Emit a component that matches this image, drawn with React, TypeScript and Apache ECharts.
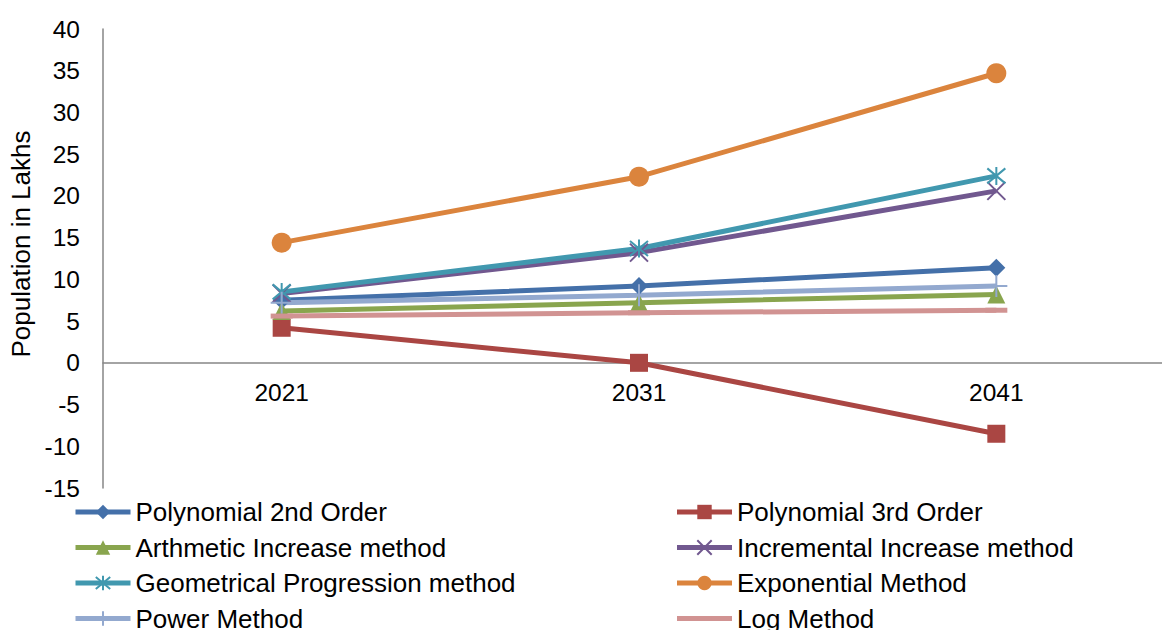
import React, { useEffect, useRef } from "react";
import * as echarts from "echarts";

// Census years on the category axis
const years = ["2021", "2031", "2041"];

// Projected population (lakhs) for each forecasting method
const polynomial2nd = [7.5, 9.2, 11.4];
const polynomial3rd = [4.2, 0, -8.5];
const arithmeticIncrease = [6.2, 7.2, 8.2];
const incrementalIncrease = [8.3, 13.2, 20.6];
const geometricalProgression = [8.5, 13.7, 22.4];
const exponentialMethod = [14.4, 22.3, 34.7];
const powerMethod = [7.2, 8.1, 9.2];
const logMethod = [5.6, 6.0, 6.3];

// Value axis range and step
const yMin = -15;
const yMax = 40;
const yStep = 5;

const FONT = "'Liberation Sans', Arial, sans-serif";

// Stroke-only marker shapes (zero-length corner segments keep the box square)
const crossX = "path://M0,0L10,10M10,0L0,10";
const asterisk = "path://M0,0L10,10M10,0L0,10M5,-1L5,11";
const plus = "path://M5,0L5,10M0,5L10,5";
const dash = "path://M0,0L0,0M0,5L10,5M10,10L10,10";

type SeriesDef = {
  name: string;
  data: number[];
  color: string;
  symbol: string;
  symbolSize: number;
  strokeWidth?: number;
};

const seriesDefs: SeriesDef[] = [
  { name: "Polynomial 2nd Order", data: polynomial2nd, color: "#4470A9", symbol: "diamond", symbolSize: 18 },
  { name: "Polynomial 3rd Order", data: polynomial3rd, color: "#AA4643", symbol: "rect", symbolSize: 18 },
  { name: "Arthmetic Increase method", data: arithmeticIncrease, color: "#89A54E", symbol: "triangle", symbolSize: 18 },
  { name: "Incremental Increase method", data: incrementalIncrease, color: "#71588F", symbol: crossX, symbolSize: 18, strokeWidth: 2 },
  { name: "Geometrical Progression method", data: geometricalProgression, color: "#4198AF", symbol: asterisk, symbolSize: 18, strokeWidth: 2 },
  { name: "Exponential Method", data: exponentialMethod, color: "#DB843D", symbol: "circle", symbolSize: 20 },
  { name: "Power Method", data: powerMethod, color: "#93A9CF", symbol: plus, symbolSize: 22, strokeWidth: 2 },
  { name: "Log Method", data: logMethod, color: "#D19392", symbol: dash, symbolSize: 22, strokeWidth: 5 },
];

// Plot area geometry
const GRID_LEFT = 103;
const GRID_TOP = 29;
const GRID_W = 1072;
const GRID_H = 459;

// Legend: two columns, 600px apart
const LEGEND_LEFT = 73;
const LEGEND_ICON_W = 55;
const LEGEND_GAP = 9.5;
const LEGEND_COL_STEP = 599;

export default function App() {
  const ref = useRef<HTMLDivElement>(null);

  useEffect(() => {
    if (!ref.current) return;
    const chart = echarts.init(ref.current, null, { renderer: "svg" });

    const series = seriesDefs.map((s) => ({
      name: s.name,
      type: "line",
      data: s.data,
      symbol: s.symbol,
      symbolSize: s.symbolSize,
      showAllSymbol: true,
      lineStyle: { color: s.color, width: 5 },
      itemStyle: s.strokeWidth
        ? { color: "rgba(0,0,0,0)", borderColor: s.color, borderWidth: s.strokeWidth }
        : { color: s.color, borderColor: s.color, borderWidth: 0 },
      emphasis: { disabled: true },
    }));

    // Shift the category axis up so it sits on the zero line
    const zeroOffset = GRID_TOP + (GRID_H * yMax) / (yMax - yMin) - (GRID_TOP + GRID_H);

    chart.setOption({
      animation: false,
      backgroundColor: "#fff",
      grid: {
        left: GRID_LEFT,
        top: GRID_TOP,
        width: GRID_W,
        height: GRID_H,
        containLabel: false,
        outerBoundsMode: "none",
      },
      legend: {
        orient: "horizontal",
        left: LEGEND_LEFT,
        top: 499,
        width: 1220,
        height: 200,
        padding: 0,
        itemWidth: LEGEND_ICON_W,
        itemHeight: 18,
        itemGap: LEGEND_GAP,
        selectedMode: false,
        lineStyle: { width: 5 },
        textStyle: {
          fontFamily: FONT,
          fontSize: 26,
          color: "#000",
          lineHeight: 25,
          width: LEGEND_COL_STEP - LEGEND_ICON_W - 5 - LEGEND_GAP,
        },
        data: seriesDefs.map((s) => s.name),
      },
      xAxis: {
        type: "category",
        data: years,
        boundaryGap: true,
        offset: zeroOffset,
        axisLine: { show: true, onZero: false, lineStyle: { color: "#868686", width: 1.5 } },
        axisTick: { show: false },
        axisLabel: { fontFamily: FONT, fontSize: 24.5, color: "#000", margin: 17 },
        splitLine: { show: false },
      },
      yAxis: {
        type: "value",
        min: yMin,
        max: yMax,
        interval: yStep,
        axisLine: { show: true, lineStyle: { color: "#868686", width: 1.5 } },
        axisTick: { show: false },
        axisLabel: { fontFamily: FONT, fontSize: 24.5, color: "#000", margin: 23 },
        splitLine: { show: false },
      },
      graphic: [
        {
          type: "text",
          x: 21,
          y: 244,
          rotation: Math.PI / 2,
          style: {
            text: "Population in Lakhs",
            fontFamily: FONT,
            fontSize: 26,
            fill: "#000",
            align: "center",
            verticalAlign: "middle",
          },
        },
      ],
      series,
    });

    return () => chart.dispose();
  }, []);

  return (
    <div
      ref={ref}
      style={{ position: "fixed", left: 0, top: 0, width: 1162, height: 630, background: "#fff" }}
    />
  );
}
